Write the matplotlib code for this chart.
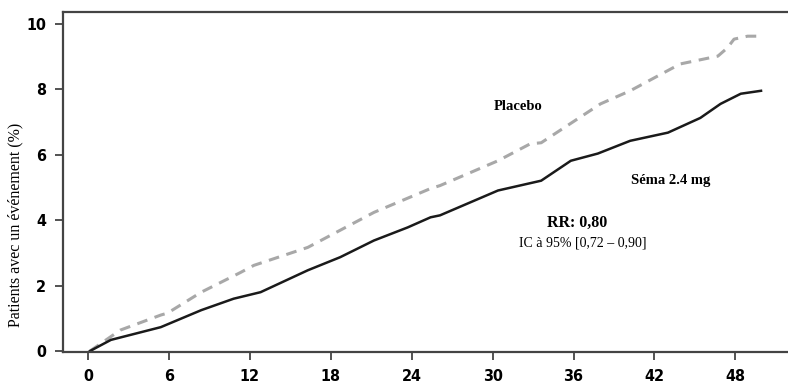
import matplotlib.pyplot as plt

# months / cumulative incidence (%)
months_placebo = [0.15, 2.4, 5.4, 5.9, 8.4, 11.3, 12.3, 16.3, 21.2, 25.4, 26.1, 30.4,
                  32.8, 33.6, 35.3, 38.0, 40.2, 43.9, 46.7, 47.4, 47.9, 48.9, 50.1]
placebo = [0.0, 0.64, 1.1, 1.16, 1.8, 2.4, 2.62, 3.17, 4.24, 4.97, 5.06, 5.82,
           6.34, 6.37, 6.83, 7.56, 7.96, 8.78, 9.02, 9.27, 9.54, 9.63, 9.63]

months_sema = [0.15, 1.7, 5.4, 8.4, 10.8, 11.3, 12.8, 16.3, 18.7, 21.2, 23.7, 25.4,
               26.1, 30.4, 33.6, 35.8, 37.8, 40.2, 43.0, 45.4, 46.9, 48.4, 49.9]
sema = [0.0, 0.34, 0.73, 1.25, 1.6, 1.65, 1.8, 2.47, 2.87, 3.38, 3.78, 4.09,
        4.15, 4.91, 5.21, 5.82, 6.04, 6.43, 6.68, 7.13, 7.56, 7.87, 7.96]

xticks = [0, 6, 12, 18, 24, 30, 36, 42, 48]
yticks = [0, 2, 4, 6, 8, 10]

fig = plt.figure(figsize=(7.88, 3.89), dpi=100)
ax = fig.add_axes([63 / 788, 37 / 389, 725 / 788, 340 / 389])

ax.plot(months_placebo, placebo, color='#a8a8a8', linestyle=(0, (3.5, 2.5)), linewidth=2.2)
ax.plot(months_sema, sema, color='#1a1a1a', linewidth=1.8)

ax.set_xlim(-1.85, 51.9)
ax.set_ylim(-0.03, 10.37)
ax.set_xticks(xticks)
ax.set_yticks(yticks)

tick_font = dict(family=['DejaVu Sans'], stretch='condensed', weight='bold', size=11.5)
ax.set_xticklabels([str(t) for t in xticks], **tick_font)
ax.set_yticklabels([str(t) for t in yticks], **tick_font)
ax.tick_params(direction='out', length=6, width=1.3, color='#444444', pad=6)

for side in ['left', 'bottom', 'top']:
    ax.spines[side].set_color('#444444')
    ax.spines[side].set_linewidth(1.6)
ax.spines['right'].set_visible(False)

ax.set_ylabel("Patients avec un événement (%)", family='Liberation Serif', size=11.5)
ax.yaxis.set_label_coords(-0.055, 0.373)

ax.text(31.9, 7.47, "Placebo", family='Liberation Serif', weight='bold', size=10.5,
        ha='center', va='center')
ax.text(43.2, 5.21, "Séma 2.4 mg", family='Liberation Serif', weight='bold', size=10.5,
        ha='center', va='center')
ax.text(36.3, 3.93, "RR: 0,80", family='Liberation Serif', weight='bold', size=11.5,
        ha='center', va='center')
ax.text(36.7, 3.29, "IC à 95% [0,72 – 0,90]", family='Liberation Serif', size=10,
        ha='center', va='center')

fig.savefig("out.png", dpi=100)
